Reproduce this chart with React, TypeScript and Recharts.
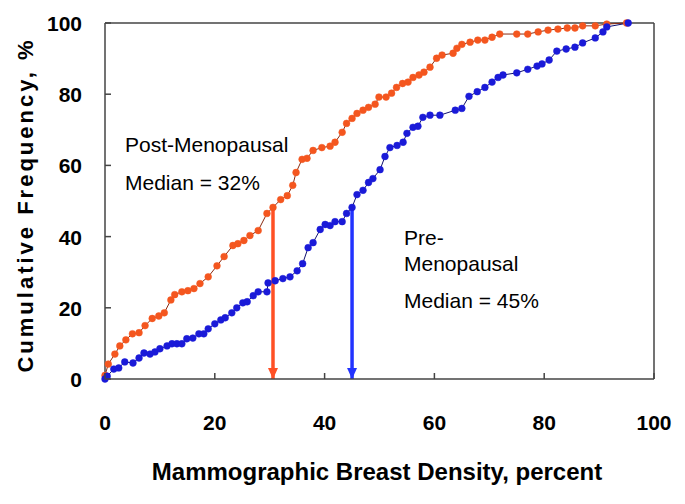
import React from 'react'
import { LineChart, Line, XAxis, YAxis, ReferenceLine, Customized } from 'recharts'

// post-menopausal cumulative curve (orange)
const postDensity = [0, 0.6, 1.8, 2.7, 3.8, 5, 6.2, 7.3, 8.6, 9.8, 10.8, 12, 12.7, 14, 15.1, 16.2, 17.3, 18.8, 20.4, 21.7, 23.3, 24.2, 25.3, 26.4, 27.9, 29.5, 30.6, 32, 33.2, 34.2, 34.8, 35.9, 36.8, 37.9, 39.5, 41, 41.9, 43.2, 44, 45, 45.9, 47, 48, 49.2, 49.9, 51.2, 52.2, 53.1, 54.2, 55.2, 56.1, 57.2, 58.1, 59.2, 60.4, 61.4, 63.4, 64.1, 65, 66.5, 67.9, 69.2, 70.5, 71.9, 75, 77, 78.9, 80.7, 82.5, 84.2, 85.6, 87, 89.3, 91.4, 95]
const postFreq = [1, 4.2, 7, 9.3, 11, 12.7, 13, 15, 17, 17.7, 18.6, 22.2, 23.7, 24.5, 24.8, 25.4, 26.8, 28.7, 31.8, 34.4, 37.5, 38, 38.9, 40.3, 41.7, 46.5, 48.2, 50.4, 51.5, 54.4, 58, 61.7, 62, 64.2, 65, 65.4, 66.5, 69.3, 71.8, 73.2, 74.6, 75.5, 76.3, 77.2, 79.2, 79.2, 80.3, 81.9, 83, 83.4, 84.7, 85.4, 86.2, 87.6, 90.1, 91, 91.5, 92.9, 94, 94.6, 95.2, 95.2, 96, 96.9, 96.9, 96.9, 97.5, 98, 98.3, 98.6, 98.6, 99.2, 99.2, 99.7, 100]

// pre-menopausal cumulative curve (blue)
const preDensity = [0, 0.4, 1.6, 2.5, 3.6, 5.1, 6.2, 7.1, 8.2, 9.1, 10, 11.3, 12.2, 13.1, 14, 14.9, 16, 17.1, 18, 18.8, 20, 21.1, 21.9, 23.1, 24, 25.1, 25.9, 27, 27.9, 29.5, 29.7, 31, 32.4, 33.7, 35, 36, 37, 37.9, 39.2, 40.1, 41, 41.9, 43.2, 44, 45, 45.9, 47, 48, 48.8, 50.1, 51, 51.9, 53.2, 54.3, 55, 56.1, 57, 57.9, 59.2, 61, 63.8, 65, 66.3, 67.8, 69.2, 70.5, 71.6, 72.5, 75, 77, 78.7, 79.6, 80.9, 82.3, 84, 85.6, 87, 89.3, 90.7, 91.4, 95.3]
const preFreq = [0, 0.8, 2.8, 3.1, 4.8, 4.5, 5.9, 7.3, 7, 7.6, 8.5, 9.3, 9.9, 9.9, 9.9, 11.3, 11.5, 12.7, 12.7, 14.1, 15.5, 16.6, 17.2, 18.6, 20, 21.4, 21.7, 23.4, 24.5, 24.5, 27, 27.6, 28.2, 28.7, 30.4, 32.4, 36.9, 38.3, 42, 43.4, 43.1, 44.2, 44.2, 46.5, 48.2, 51.8, 53, 55.2, 56.3, 58.8, 62.5, 65, 65.6, 66.5, 69, 70.7, 71, 73.5, 74.1, 74.1, 75.5, 76, 79.4, 80.7, 81.9, 83.4, 84.7, 85.4, 86, 87, 87.9, 88.5, 89.6, 92.1, 92.7, 93.2, 94.4, 95.8, 97.5, 98.9, 100]

// median arrows: [x, top of arrow]
const postMedian = [30.6, 48]
const preMedian = [45, 48]

const ticks = [0, 20, 40, 60, 80, 100]

const ORANGE = '#f4561f'
const BLUE = '#1a1ad8'
const AXIS = '#444'
const NARROW = "'Liberation Sans Narrow', 'Liberation Sans', Arial, sans-serif"
const SANS = "'Liberation Sans', Arial, sans-serif"

const toRows = (xs: number[], ys: number[]) => xs.map((x, i) => ({ x, y: ys[i] }))
const postData = toRows(postDensity, postFreq)
const preData = toRows(preDensity, preFreq)
const postArrow = [{ x: postMedian[0], y: postMedian[1] }, { x: postMedian[0], y: 0 }]
const preArrow = [{ x: preMedian[0], y: preMedian[1] }, { x: preMedian[0], y: 0 }]

const XTick = (props: any) => {
  const { x, y, payload } = props
  return (
    <g>
      <line x1={x} y1={y} x2={x} y2={y - 6} stroke={AXIS} strokeWidth={1.5} />
      <text x={x} y={y + 51} textAnchor="middle" fontFamily={NARROW} fontWeight="bold" fontSize={21} fill="#000">
        {payload.value}
      </text>
    </g>
  )
}

const YTick = (props: any) => {
  const { x, y, payload } = props
  return (
    <g>
      <line x1={x} y1={y} x2={x + 6} y2={y} stroke={AXIS} strokeWidth={1.5} />
      <text x={x - 23} y={y + 8} textAnchor="end" fontFamily={NARROW} fontWeight="bold" fontSize={21} fill="#000">
        {payload.value}
      </text>
    </g>
  )
}

const arrowHead = (color: string) => (props: any) => {
  const { cx, cy, index } = props
  if (index !== 1) return <g key={`a${index}`} />
  return <path key={`a${index}`} d={`M${cx - 5},${cy - 11} L${cx + 5},${cy - 11} L${cx},${cy} Z`} fill={color} />
}

const Texts = () => (
  <g fill="#000">
    <text x={125} y={152} fontFamily={SANS} fontSize={21}>Post-Menopausal</text>
    <text x={125} y={190} fontFamily={SANS} fontSize={21}>Median = 32%</text>
    <text x={404} y={245} fontFamily={SANS} fontSize={21}>Pre-</text>
    <text x={404} y={271} fontFamily={SANS} fontSize={21}>Menopausal</text>
    <text x={404} y={308} fontFamily={SANS} fontSize={21}>Median = 45%</text>
    <text x={377} y={480} textAnchor="middle" fontFamily={NARROW} fontWeight="bold" fontSize={24}>
      Mammographic Breast Density, percent
    </text>
    <text x={33} y={205} textAnchor="middle" fontFamily={SANS} fontWeight="bold" fontSize={22} letterSpacing={3} transform="rotate(-90, 33, 205)">
      Cumulative Frequency, %
    </text>
  </g>
)

export default function App() {
  return (
    <div style={{ position: 'absolute', left: 0, top: 0, background: '#fff' }}>
      <LineChart width={685} height={504} margin={{ top: 23, right: 31, bottom: 35, left: 45 }}>
        <XAxis
          type="number"
          dataKey="x"
          domain={[0, 100]}
          ticks={ticks}
          height={90}
          tickSize={0}
          tickMargin={0}
          tick={<XTick />}
          tickLine={false}
          axisLine={{ stroke: AXIS, strokeWidth: 1.5 }}
          allowDuplicatedCategory={false}
        />
        <YAxis
          type="number"
          domain={[0, 100]}
          ticks={ticks}
          width={60}
          tickSize={0}
          tickMargin={0}
          tick={<YTick />}
          tickLine={false}
          axisLine={{ stroke: AXIS, strokeWidth: 1.5 }}
        />
        <ReferenceLine y={100} stroke={AXIS} strokeWidth={1.5} />
        <ReferenceLine x={100} stroke={AXIS} strokeWidth={1.5} />
        <Line data={postData} dataKey="y" stroke="#8a2a10" strokeWidth={1} dot={{ r: 3.4, fill: ORANGE, stroke: ORANGE, strokeWidth: 0.5 }} isAnimationActive={false} />
        <Line data={preData} dataKey="y" stroke="#101070" strokeWidth={1} dot={{ r: 3.4, fill: BLUE, stroke: BLUE, strokeWidth: 0.5 }} isAnimationActive={false} />
        <Line data={postArrow} dataKey="y" stroke="#ff5025" strokeWidth={3.5} dot={arrowHead('#ff5025')} isAnimationActive={false} />
        <Line data={preArrow} dataKey="y" stroke="#2233ff" strokeWidth={3.5} dot={arrowHead('#2233ff')} isAnimationActive={false} />
        <Customized component={Texts} />
      </LineChart>
    </div>
  )
}
